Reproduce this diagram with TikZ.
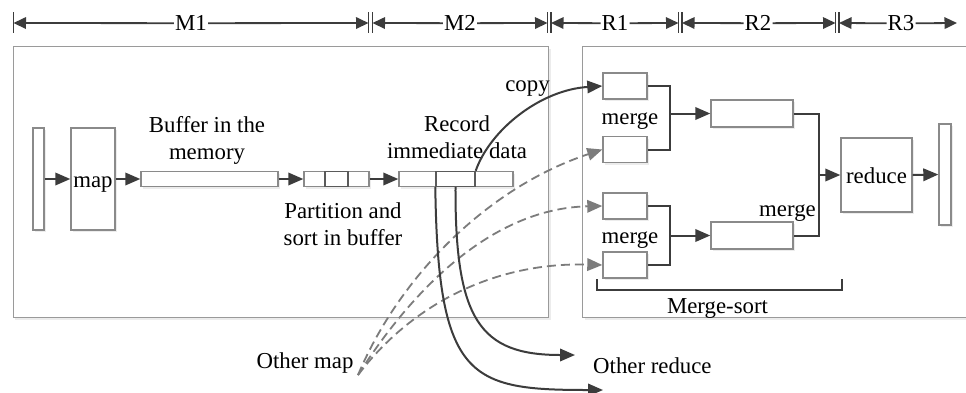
\documentclass[tikz,border=0pt]{standalone}
\usepackage{fontspec}
\setmainfont{Liberation Serif}
\usetikzlibrary{arrows.meta,shadows}

\definecolor{ink}{HTML}{3C3C3C}
\definecolor{edge}{HTML}{8A8A8A}
\definecolor{edgedark}{HTML}{5A5A5A}
\definecolor{panelgray}{HTML}{9A9A9A}
\definecolor{dashgray}{HTML}{7C7C7C}

\begin{document}
\begin{tikzpicture}[x=1pt,y=-1pt,
  font=\fontsize{22.8}{27}\selectfont,
  softshadow/.style={drop shadow={shadow xshift=2pt,shadow yshift=-2pt,fill=black!12,draw=none,opacity=0.6}},
  box/.style={draw=edge,line width=1.4pt,fill=white,inner sep=0pt,softshadow},
  innerbox/.style={draw=edgedark,line width=1.4pt,inner sep=0pt},
  panel/.style={draw=panelgray,line width=1.4pt,fill=white,inner sep=0pt,softshadow},
  link/.style={draw=ink,line width=2pt},
  conn/.style={link,-{Triangle[length=15pt,width=12.5pt]}},
  dashconn/.style={draw=dashgray,line width=1.8pt,dash pattern=on 9pt off 5pt,
    -{Triangle[length=15pt,width=12.5pt,fill=dashgray]}},
  dimline/.style={draw=ink,line width=1.8pt,-{Triangle[length=12.5pt,width=11.5pt]}},
  tickline/.style={draw=ink,line width=1.8pt},
  dimlabel/.style={fill=white,inner xsep=1pt,inner ysep=0pt,anchor=base},
  txt/.style={inner sep=0pt,align=center}
]
\fill[white] (0,0) rectangle (966,392);
\useasboundingbox (0,0) rectangle (966,392);

% ---------- phase dimension line ----------
\coordinate (t0)  at (13.5,23);
\coordinate (t1a) at (368.5,23);
\coordinate (t1b) at (372.5,23);
\coordinate (t2a) at (547.5,23);
\coordinate (t2b) at (551,23);
\coordinate (t3a) at (678.5,23);
\coordinate (t3b) at (682,23);
\coordinate (t4a) at (835.5,23);
\coordinate (t4b) at (839,23);
\coordinate (tend) at (957,23);

\foreach \xx in {13.5,368.5,372.5,547.5,551,678.5,682,835.5,839}
  \draw[tickline] (\xx,12) -- (\xx,33);

\node[dimlabel] (lm1) at (191,30.7) {M1};
\node[dimlabel] (lm2) at (460,30.7) {M2};
\node[dimlabel] (lr1) at (615,30.7) {R1};
\node[dimlabel] (lr2) at (758,30.7) {R2};
\node[dimlabel] (lr3) at (901,30.7) {R3};

\draw[dimline] (lm1.west) -- (t0);
\draw[dimline] (lm1.east) -- (t1a);
\draw[dimline] (lm2.west) -- (t1b);
\draw[dimline] (lm2.east) -- (t2a);
\draw[dimline] (lr1.west) -- (t2b);
\draw[dimline] (lr1.east) -- (t3a);
\draw[dimline] (lr2.west) -- (t3b);
\draw[dimline] (lr2.east) -- (t4a);
\draw[dimline] (lr3.west) -- (t4b);
\draw[dimline] (lr3.east) -- (tend);

% ---------- panels ----------
\node[panel,anchor=north west,minimum width=535.5pt,minimum height=271pt] (mappanel) at (12.5,46) {};
\node[panel,anchor=north west,minimum width=392pt,minimum height=271pt] (redpanel) at (582,46) {};

% ---------- map side ----------
\node[box,minimum width=11pt,minimum height=102pt] (inbar) at (38.5,179) {};
\node[box,minimum width=44pt,minimum height=102pt,text height=16pt,text depth=0pt] (map) at (93,179) {map};
\node[box,minimum width=137pt,minimum height=15pt] (buf) at (209.5,179) {};
\node[box,minimum width=65pt,minimum height=15pt] (part) at (336.5,179) {};
\node[innerbox,minimum width=23pt,minimum height=15pt] (partin) at (336.5,179) {};
\node[box,minimum width=114pt,minimum height=15pt] (rec) at (456,179) {};
\node[innerbox,minimum width=39pt,minimum height=15pt] (recin) at (455.5,179) {};

\node[txt] (lbuf) at (207,140.2) {Buffer in the\\memory};
\node[txt] (lpart) at (343,224) {Partition and\\sort in buffer};
\node[txt] (lrec) at (457,137.5) {Record\\immediate data};
\node[anchor=base,inner sep=0pt] (lcopy) at (527.5,91.7) {copy};

\draw[conn] (inbar.east) -- (map.west);
\draw[conn] (map.east) -- (buf.west);
\draw[conn] (buf.east) -- (part.west);
\draw[conn] (part.east) -- (rec.west);

% ---------- reduce side ----------
\node[box,minimum width=44pt,minimum height=26pt] (a1) at (625,86) {};
\node[box,minimum width=44pt,minimum height=26pt] (a2) at (625,149.5) {};
\node[box,minimum width=44pt,minimum height=26pt] (a3) at (625,206) {};
\node[box,minimum width=44pt,minimum height=26pt] (a4) at (625,265) {};
\node[box,minimum width=82pt,minimum height=27pt] (b1) at (752,113.5) {};
\node[box,minimum width=82pt,minimum height=27pt] (b2) at (752,235.5) {};
\node[box,minimum width=71pt,minimum height=74pt,text height=16pt,text depth=0pt] (red) at (876.5,175) {reduce};
\node[box,minimum width=12pt,minimum height=101pt] (outbar) at (945,174.5) {};

\node[anchor=base,inner sep=0pt] (lmg1) at (630,124) {merge};
\node[anchor=base,inner sep=0pt] (lmg2) at (630,243) {merge};
\node[anchor=base,inner sep=0pt] (lmg3) at (787.5,216.7) {merge};
\node[anchor=base,inner sep=0pt] (lms) at (717.5,313.5) {Merge-sort};

\coordinate (j1) at (670,113.5);
\coordinate (j2) at (670,235.5);
\coordinate (j3) at (819,175);
\draw[link] (a1.east) -| (j1) |- (a2.east);
\draw[conn] (j1) -- (b1.west);
\draw[link] (a3.east) -| (j2) |- (a4.east);
\draw[conn] (j2) -- (b2.west);
\draw[link] (b1.east) -| (j3) |- (b2.east);
\draw[conn] (j3) -- (red.west);
\draw[conn] (red.east) -- (outbar.west);

% merge-sort bracket
\draw[link] (597,279) -- (597,290) -- (842,290) -- (842,279);

% ---------- shuffle ----------
\node[anchor=base,inner sep=0pt] (omap) at (305,368.3) {Other map};
\node[anchor=base west,inner sep=0pt] (ored) at (593,373) {Other reduce};
\coordinate (om) at (358,375);
\coordinate (or1) at (575,355);
\coordinate (or2) at (603,390);

\draw[conn] (recin.north east) .. controls (490,130) and (540,90) .. (a1.west);
\draw[dashconn] (om) .. controls (400,275) and (489,187) .. (a2.west);
\draw[dashconn] (om) .. controls (425,270) and (505,208) .. (a3.west);
\draw[dashconn] (om) .. controls (415,300) and (500,262) .. (a4.west);
\draw[conn] (recin.south west) .. controls (438,380) and (470,390) .. (or2);
\draw[conn] (recin.south) .. controls (455,320) and (480,355) .. (or1);
\end{tikzpicture}
\end{document}
